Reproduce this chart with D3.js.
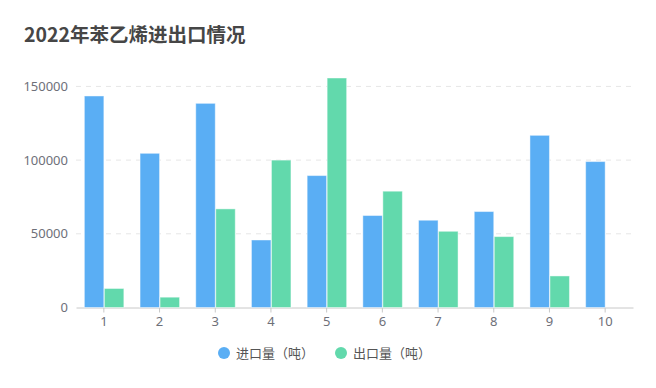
<!DOCTYPE html>
<html>
<head>
<meta charset="utf-8">
<script src="https://cdn.jsdelivr.net/npm/d3@7"></script>
<style>
  body { margin: 0; background: #fff; }
  svg { font-family: "Noto Sans CJK SC", "Noto Sans", sans-serif; }
</style>
</head>
<body>
<div id="chart-area"><svg></svg></div>
<script>
const chartSize = { width: 656, height: 388 };
const margin = { left: 76, right: 23, top: 78, bottom: 80.5 };
const width = chartSize.width - margin.left - margin.right;
const height = chartSize.height - margin.top - margin.bottom;

const months = ['1', '2', '3', '4', '5', '6', '7', '8', '9', '10'];
const imports = [143500, 104600, 138500, 45800, 89500, 62400, 59200, 65100, 116800, 99000];
const exports = [12900, 7000, 66900, 100000, 155700, 78900, 51700, 48100, 21400, null];
const yTicks = [0, 50000, 100000, 150000];
const seriesNames = ['进口量（吨）', '出口量（吨）'];
const colors = ['#5aaef4', '#62d9ac'];

const main = () => {
  const svg = d3.select('#chart-area svg')
    .attr('width', chartSize.width)
    .attr('height', chartSize.height);

  svg.append('text')
    .attr('x', 24).attr('y', 42)
    .attr('font-size', 19.5).attr('font-weight', 'bold')
    .attr('fill', '#464646')
    .text('2022年苯乙烯进出口情况');

  const g = svg.append('g')
    .attr('transform', `translate(${margin.left},${margin.top})`);

  const x = d3.scaleBand().domain(months).range([0, width]);
  const y = d3.scaleLinear()
    .domain([0, d3.max([...imports, ...exports])])
    .range([height, 0]);

  // grid
  g.selectAll('.grid').data(yTicks.filter(t => t > 0)).enter()
    .append('line')
    .attr('x1', 0).attr('x2', width)
    .attr('y1', d => y(d)).attr('y2', d => y(d))
    .attr('stroke', '#e6e6e6').attr('stroke-dasharray', '5,5');

  const yAxis = d3.axisLeft(y).tickValues(yTicks).tickFormat(d3.format('d'))
    .tickSize(0).tickPadding(8);
  g.append('g').attr('class', 'y axis').call(yAxis)
    .call(a => a.select('.domain').remove())
    .selectAll('text').attr('font-size', 13).attr('fill', '#6e7079')
    .attr('font-family', '"Noto Sans", sans-serif');

  const xAxis = d3.axisBottom(x).tickSize(5).tickSizeOuter(0).tickPadding(4);
  const xa = g.append('g').attr('class', 'x axis')
    .attr('transform', `translate(0,${height})`).call(xAxis);
  xa.select('.domain').attr('stroke', '#c8c8c8');
  xa.selectAll('line').attr('stroke', '#c8c8c8');
  xa.selectAll('text').attr('font-size', 13).attr('fill', '#6e7079')
    .attr('font-family', '"Noto Sans", sans-serif');

  const barW = x.bandwidth() * 0.35;
  const xInner = d3.scaleBand().domain([0, 1])
    .range([x.bandwidth() / 2 - barW - 0.5, x.bandwidth() / 2 + barW + 0.5]);

  [imports, exports].forEach((vals, si) => {
    g.selectAll(`.bar${si}`).data(vals.map((v, i) => ({ m: months[i], v })).filter(d => d.v != null))
      .enter().append('rect')
      .attr('x', d => x(d.m) + xInner(si) + 0.5)
      .attr('y', d => y(d.v))
      .attr('width', barW)
      .attr('height', d => y(0) - y(d.v))
      .attr('fill', colors[si])
      .attr('stroke', 'rgba(255,255,255,0.45)')
      .attr('stroke-width', 1);
  });

  // legend
  const legendX = [224, 341];
  const lg = svg.append('g');
  seriesNames.forEach((name, i) => {
    lg.append('circle').attr('cx', legendX[i]).attr('cy', 353).attr('r', 6).attr('fill', colors[i]);
    lg.append('text').attr('x', legendX[i] + 12).attr('y', 358)
      .attr('font-size', 13).attr('fill', '#555')
      .text(name);
  });
};
window.onload = main;
</script>
</body>
</html>
